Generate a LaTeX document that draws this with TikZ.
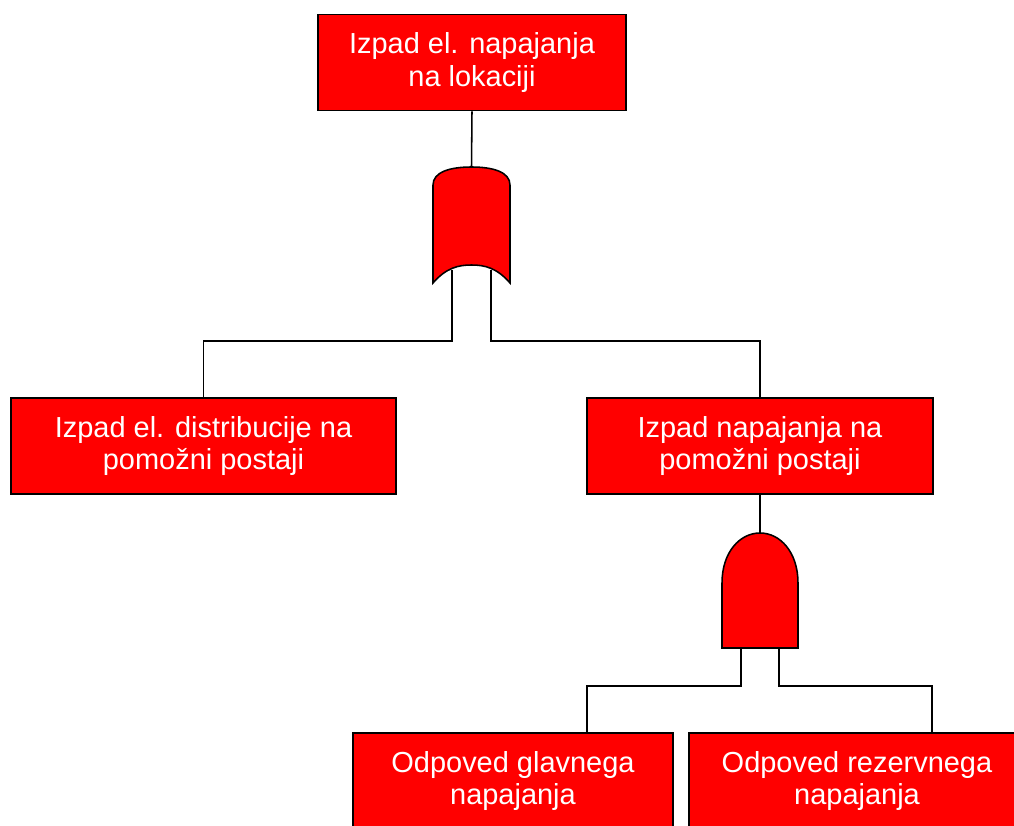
\documentclass[tikz,border=0pt]{standalone}
\usepackage{fontspec}
\setmainfont{Liberation Sans}
\usepackage{tikz}
\usetikzlibrary{calc}

\tikzset{
  evt/.style={draw=black, line width=1.1pt, fill=red, text=white, rectangle,
    minimum height=2.4cm, align=center, inner sep=0pt,
    font=\fontsize{20.6}{22.8}\selectfont},
  gatefill/.style={draw=black, line width=1.1pt, fill=red},
  wire/.style={draw=black, line width=1.1pt}
}

\begin{document}
\begin{tikzpicture}[x=0.025cm, y=-0.025cm]
        \path[use as bounding box, clip] (0,0) rectangle (1014,826);
        % Dogodki
        \node[evt, minimum width=7.7cm] (top) at (472,62.5) {Izpad el. napajanja\\na lokaciji};
        \node[evt, minimum width=9.625cm] (dist) at (203.5,446) {Izpad el. distribucije na\\pomožni postaji};
        \node[evt, minimum width=8.65cm] (napa) at (760,446) {Izpad napajanja na\\pomožni postaji};
        \node[evt, minimum width=8cm] (glav) at (513,781) {Odpoved glavnega\\napajanja};
        \node[evt, minimum width=8.4cm] (rez) at (857,781) {Odpoved rezervnega\\napajanja};
        % Tocke vrat
        \coordinate (orOut) at (471.5,167);
        \coordinate (orL) at (452,270);
        \coordinate (orR) at (491,270);
        \coordinate (bus1) at (0,341);
        \coordinate (andOut) at (760,533);
        \coordinate (andL) at (741,640);
        \coordinate (andR) at (779,640);
        \coordinate (bus2) at (0,686);
        % Povezave
        \draw[wire] (top.south) -- (orOut);
        \draw[wire] (orL) |- (dist.north |- bus1) -- (dist.north);
        \draw[wire] (orR) |- (napa.north |- bus1) -- (napa.north);
        \draw[wire] (napa.south) -- (andOut);
        \draw[wire] (andL) |- (587,686) -- (587,733);
        \draw[wire] (andR) |- (932,686) -- (932,733);
        % Vrata ALI
        \draw[gatefill] (433,283) -- (433,185)
          .. controls (433,172) and (450,167) .. (orOut)
          .. controls (493,167) and (510,172) .. (510,185)
          -- (510,283)
          .. controls (497,268) and (485,265) .. (471.5,265)
          .. controls (458,265) and (446,268) .. (433,283) -- cycle;
        % Vrata IN
        \draw[gatefill] (722,648) -- (722,583)
          .. controls (722,552) and (740,533) .. (andOut)
          .. controls (780,533) and (798,552) .. (798,583)
          -- (798,648) -- cycle;
    \end{tikzpicture}
\end{document}
